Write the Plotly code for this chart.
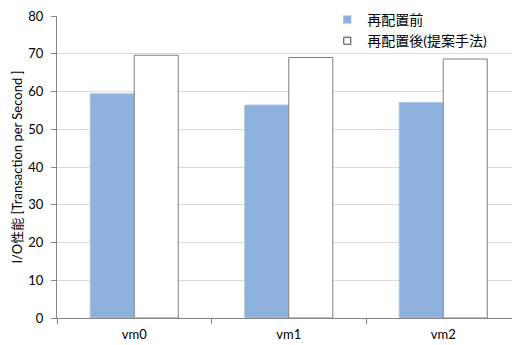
import plotly.graph_objects as go

categories = ["vm0", "vm1", "vm2"]
before_values = [59.4, 56.4, 57.1]
after_values = [69.6, 69.0, 68.6]
series_names = ["再配置前", "再配置後(提案手法)"]
y_ticks = [0, 10, 20, 30, 40, 50, 60, 70, 80]

FONT = "Lato, 'Noto Sans CJK JP', sans-serif"
GRID = "#D9D9D9"
AXIS = "#868686"
BLUE = "#8EB0DC"

fig = go.Figure()
fig.add_trace(go.Bar(
    x=categories, y=before_values, name=series_names[0],
    marker=dict(color=BLUE, line=dict(color="#A9C4E6", width=1)),
    showlegend=False,
))
fig.add_trace(go.Bar(
    x=categories, y=after_values, name=series_names[1],
    marker=dict(color="#FFFFFF", line=dict(color="#7F7F7F", width=1)),
    showlegend=False,
))

# small square keys for the legend
fig.add_trace(go.Scatter(
    x=[None], y=[None], mode="markers", name=series_names[0],
    marker=dict(symbol="square", size=8, color=BLUE, line=dict(width=0)),
    legendgroup="a",
))
fig.add_trace(go.Scatter(
    x=[None], y=[None], mode="markers", name=series_names[1],
    marker=dict(symbol="square", size=7, color="#FFFFFF", line=dict(color="#404040", width=1)),
    legendgroup="b",
))

# blank out the top gridline behind the legend
fig.add_shape(
    type="rect", xref="paper", yref="paper",
    x0=0.593, x1=1.0, y0=0.99, y1=1.01,
    fillcolor="white", line=dict(width=0), layer="above",
)

fig.update_layout(
    width=512, height=345,
    margin=dict(l=57, r=0, t=16, b=27),
    paper_bgcolor="white", plot_bgcolor="white",
    barmode="group", bargap=0.43, bargroupgap=0,
    font=dict(family=FONT, size=13, color="#000000"),
    legend=dict(
        x=0.594, xanchor="left", y=1.04, yanchor="top",
        bgcolor="rgba(0,0,0,0)", borderwidth=0,
        font=dict(family=FONT, size=14),
        traceorder="grouped", tracegroupgap=0,
        itemwidth=30,
    ),
    xaxis=dict(
        type="category", range=[-0.5, 2.445],
        showline=True, linecolor=AXIS, linewidth=1,
        ticks="outside", ticklen=5, tickcolor=AXIS, tickson="boundaries",
        showgrid=False, ticklabelstandoff=4,
        tickfont=dict(size=13),
    ),
    yaxis=dict(
        range=[0, 80], tickvals=y_ticks,
        showline=True, linecolor=AXIS, linewidth=1,
        ticks="outside", ticklen=5, tickcolor=AXIS,
        showgrid=True, gridcolor=GRID, gridwidth=1,
        zeroline=False, ticklabelstandoff=5,
        tickfont=dict(size=13),
        title=dict(text="I/O性能 [Transaction per Second ]", font=dict(size=13), standoff=2),
    ),
)

fig.write_html("out.html")
